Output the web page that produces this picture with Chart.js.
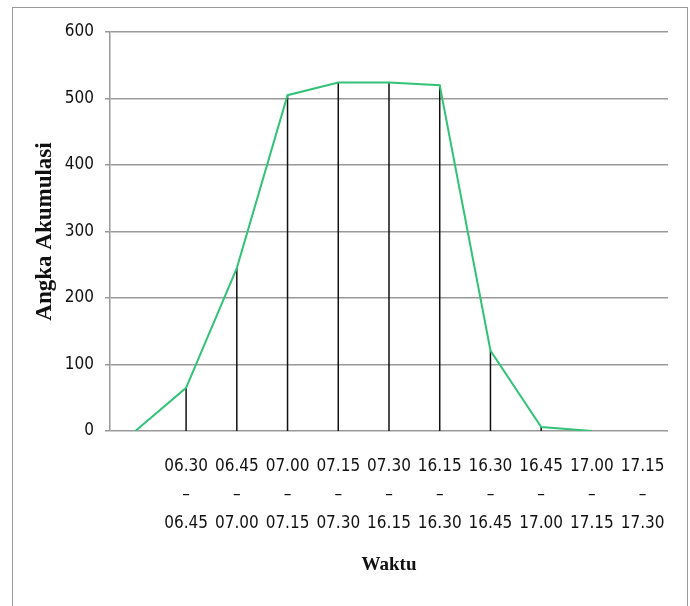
<!DOCTYPE html>
<html>
<head>
  <title>Angka Akumulasi</title>
  <script src="https://cdn.jsdelivr.net/npm/chart.js"></script>
  <style>
    body { margin: 0; background: #fff; }
    #frame { position: absolute; left: 12px; top: 7px; width: 674px; height: 620px; border: 1px solid #9a9a9a; }
    #akChart { position: absolute; left: 0; top: 0; }
  </style>
</head>
<body>
  <div id="frame"></div>
  <canvas id="akChart" width="690" height="606"></canvas>

  <script>
    // time slots (first category left blank, as in the original)
    const startTimes = ['', '06.30', '06.45', '07.00', '07.15', '07.30', '16.15', '16.30', '16.45', '17.00', '17.15'];
    const endTimes   = ['', '06.45', '07.00', '07.15', '07.30', '16.15', '16.30', '16.45', '17.00', '17.15', '17.30'];
    const akumulasi  = [0, 65, 245, 505, 524, 524, 520, 121, 6, 0, null];
    const yTicks = [0, 100, 200, 300, 400, 500, 600];

    const labels = startTimes.map((s, i) => s ? [s, '–', endTimes[i]] : '');

    const tickFont = { family: "'DejaVu Sans Condensed', 'DejaVu Sans'", size: 17, lineHeight: 1.65 };

    // vertical black lines from each point down to zero
    const dropLines = {
      id: 'dropLines',
      beforeDatasetsDraw(chart) {
        const ctx = chart.ctx;
        const y0 = chart.scales.y.getPixelForValue(0);
        const meta = chart.getDatasetMeta(0);
        ctx.save();
        ctx.strokeStyle = '#111';
        ctx.lineWidth = 1.5;
        meta.data.forEach((pt, i) => {
          if (!akumulasi[i]) return;
          ctx.beginPath();
          ctx.moveTo(pt.x, pt.y);
          ctx.lineTo(pt.x, y0);
          ctx.stroke();
        });
        ctx.restore();
      }
    };

    const ctx = document.getElementById('akChart').getContext('2d');
    const chart = new Chart(ctx, {
      type: 'line',
      data: {
        labels: labels,
        datasets: [{
          data: akumulasi,
          borderColor: '#33c277',
          borderWidth: 2,
          pointRadius: 0,
          tension: 0,
          spanGaps: false
        }]
      },
      options: {
        responsive: false,
        animation: false,
        layout: { padding: { left: 0, right: 22, top: 32, bottom: 0 } },
        plugins: { legend: { display: false }, tooltip: { enabled: false } },
        scales: {
          x: {
            offset: true,
            grid: { display: false, drawTicks: false },
            border: { display: false },
            ticks: { color: '#111', font: tickFont, padding: 22, maxRotation: 0, autoSkip: false },
            title: {
              display: true, text: 'Waktu', color: '#111',
              font: { family: "'Liberation Serif'", size: 19, weight: 'bold' },
              padding: { top: 0, bottom: 30 }
            },
            afterFit(scale) { scale.height = 175; }
          },
          y: {
            min: 0, max: 600,
            afterBuildTicks(scale) { scale.ticks = yTicks.map(v => ({ value: v })); },
            grid: { color: '#999', lineWidth: 1.5, tickLength: 5 },
            border: { color: '#999', width: 1.5 },
            ticks: { color: '#111', font: tickFont, padding: 11 },
            title: {
              display: true, text: 'Angka Akumulasi', color: '#111',
              font: { family: "'Liberation Serif'", size: 23, weight: 'bold' },
              padding: { top: 31, bottom: 0 }
            },
            afterFit(scale) { scale.width = 110; }
          }
        }
      },
      plugins: [dropLines]
    });
  </script>
</body>
</html>
